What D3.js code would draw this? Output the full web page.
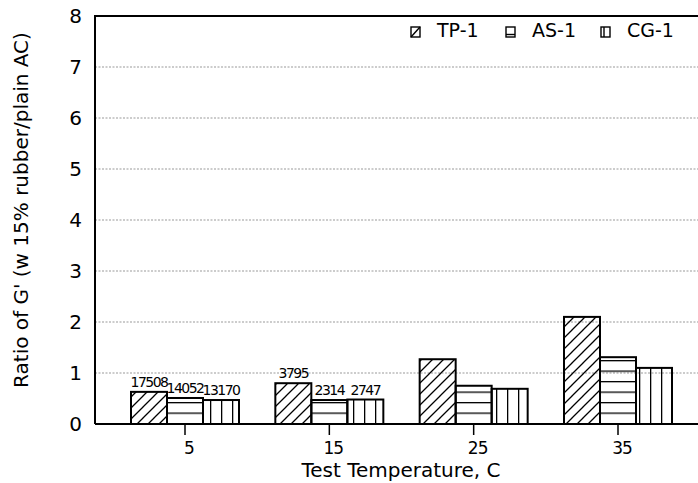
<!DOCTYPE html>
<html>
<head>
<meta charset="utf-8">
<script src="https://cdn.jsdelivr.net/npm/d3@7"></script>
<style>
  body { margin: 0; background: #fff; }
  text { font-family: "DejaVu Sans", sans-serif; fill: #000; }
</style>
</head>
<body>
<div id="chart"></div>
<script>
const temps = [5, 15, 25, 35];
const series = ['TP-1', 'AS-1', 'CG-1'];
const tpValues = [0.63, 0.80, 1.27, 2.10];
const asValues = [0.51, 0.47, 0.75, 1.31];
const cgValues = [0.47, 0.48, 0.69, 1.10];
const tpLabels = ['17508', '3795', '', ''];
const asLabels = ['14052', '2314', '', ''];
const cgLabels = ['13170', '2747', '', ''];
const yTicks = [0, 1, 2, 3, 4, 5, 6, 7, 8];

const W = 698, H = 483;
const plot = { left: 95, right: 698, top: 16, bottom: 424 };

const svg = d3.select('#chart').append('svg').attr('width', W).attr('height', H);

// hatch patterns
const defs = svg.append('defs');
const pDiag = defs.append('pattern').attr('id', 'p-diag').attr('patternUnits', 'userSpaceOnUse')
  .attr('width', 11).attr('height', 11);
pDiag.append('path').attr('d', 'M-2,13 L13,-2 M-2,2 L2,-2 M9,13 L13,9')
  .attr('stroke', '#000').attr('stroke-width', 1.3);
const pHor = defs.append('pattern').attr('id', 'p-hor').attr('patternUnits', 'userSpaceOnUse')
  .attr('width', 10).attr('height', 10.5).attr('y', 3);
pHor.append('line').attr('x1', 0).attr('x2', 10).attr('y1', 0.5).attr('y2', 0.5)
  .attr('stroke', '#000').attr('stroke-width', 1.6);
const pVer = defs.append('pattern').attr('id', 'p-ver').attr('patternUnits', 'userSpaceOnUse')
  .attr('width', 11).attr('height', 10).attr('x', 1);
pVer.append('line').attr('x1', 0.5).attr('x2', 0.5).attr('y1', 0).attr('y2', 10)
  .attr('stroke', '#000').attr('stroke-width', 1.6);
const fills = ['url(#p-diag)', 'url(#p-hor)', 'url(#p-ver)'];

const x = d3.scaleLinear().domain([5, 35]).range([185, 618]);
const y = d3.scaleLinear().domain([0, 8]).range([plot.bottom, plot.top]);
const barW = 36;

// grid
svg.append('g').selectAll('line').data(yTicks.filter(d => d > 0 && d < 8)).enter().append('line')
  .attr('x1', plot.left).attr('x2', plot.right)
  .attr('y1', d => y(d)).attr('y2', d => y(d))
  .attr('stroke', '#999').attr('stroke-width', 1).attr('stroke-dasharray', '2,1.5');

// bars
const allVals = [tpValues, asValues, cgValues];
const allLabels = [tpLabels, asLabels, cgLabels];
series.forEach((s, si) => {
  const data = temps.map((t, i) => ({ t, v: allVals[si][i], lab: allLabels[si][i] }));
  const g = svg.append('g');
  g.selectAll('rect').data(data).enter().append('rect')
    .attr('x', d => x(d.t) - 1.5 * barW + si * barW)
    .attr('y', d => y(d.v))
    .attr('width', barW)
    .attr('height', d => plot.bottom - y(d.v))
    .attr('fill', fills[si])
    .attr('stroke', '#000').attr('stroke-width', 2);
  g.selectAll('text').data(data.filter(d => d.lab)).enter().append('text')
    .attr('x', d => x(d.t) - 1.5 * barW + si * barW + barW / 2)
    .attr('y', d => y(d.v) - 5)
    .attr('text-anchor', 'middle')
    .attr('font-size', 14)
    .attr('letter-spacing', -1.5)
    .text(d => d.lab);
});

// frame: left and top, bottom axis
svg.append('path')
  .attr('d', `M${plot.left},${plot.bottom} L${plot.left},${plot.top} L${plot.right},${plot.top}`)
  .attr('fill', 'none').attr('stroke', '#000').attr('stroke-width', 2);
svg.append('line').attr('x1', plot.left).attr('x2', plot.right).attr('y1', plot.bottom).attr('y2', plot.bottom)
  .attr('stroke', '#000').attr('stroke-width', 2);

// x ticks
const xAxis = svg.append('g');
xAxis.selectAll('line').data(temps).enter().append('line')
  .attr('x1', d => x(d)).attr('x2', d => x(d))
  .attr('y1', plot.bottom).attr('y2', plot.bottom + 11)
  .attr('stroke', '#000').attr('stroke-width', 1.5);
xAxis.selectAll('text').data(temps).enter().append('text')
  .attr('x', d => x(d) + 4).attr('y', 454)
  .attr('text-anchor', 'middle').attr('font-size', 17)
  .attr('letter-spacing', -1)
  .text(d => d);

// y tick labels
svg.append('g').selectAll('text').data(yTicks).enter().append('text')
  .attr('x', 82).attr('y', d => y(d) + 7)
  .attr('text-anchor', 'end').attr('font-size', 20)
  .text(d => d);

// axis titles
svg.append('text').attr('x', 401).attr('y', 477)
  .attr('text-anchor', 'middle').attr('font-size', 20)
  .text('Test Temperature, C');
svg.append('text').attr('transform', 'translate(28,210) rotate(-90)')
  .attr('text-anchor', 'middle').attr('font-size', 20)
  .text("Ratio of G' (w 15% rubber/plain AC)");

// legend
const legendX = [411, 506, 601];
const iconLine = [
  'M0,10 L9,0',
  'M0,7.5 L9,7.5',
  'M3,0 L3,10'
];
const leg = svg.append('g');
series.forEach((s, si) => {
  const ic = leg.append('g').attr('transform', `translate(${legendX[si]},27)`);
  ic.append('rect').attr('width', 9).attr('height', 10)
    .attr('fill', '#fff').attr('stroke', '#000').attr('stroke-width', 1.4);
  ic.append('path').attr('d', iconLine[si]).attr('stroke', '#000').attr('stroke-width', 1.4);
  leg.append('text').attr('x', legendX[si] + 26).attr('y', 37)
    .attr('font-size', 19).text(s);
});
</script>
</body>
</html>
